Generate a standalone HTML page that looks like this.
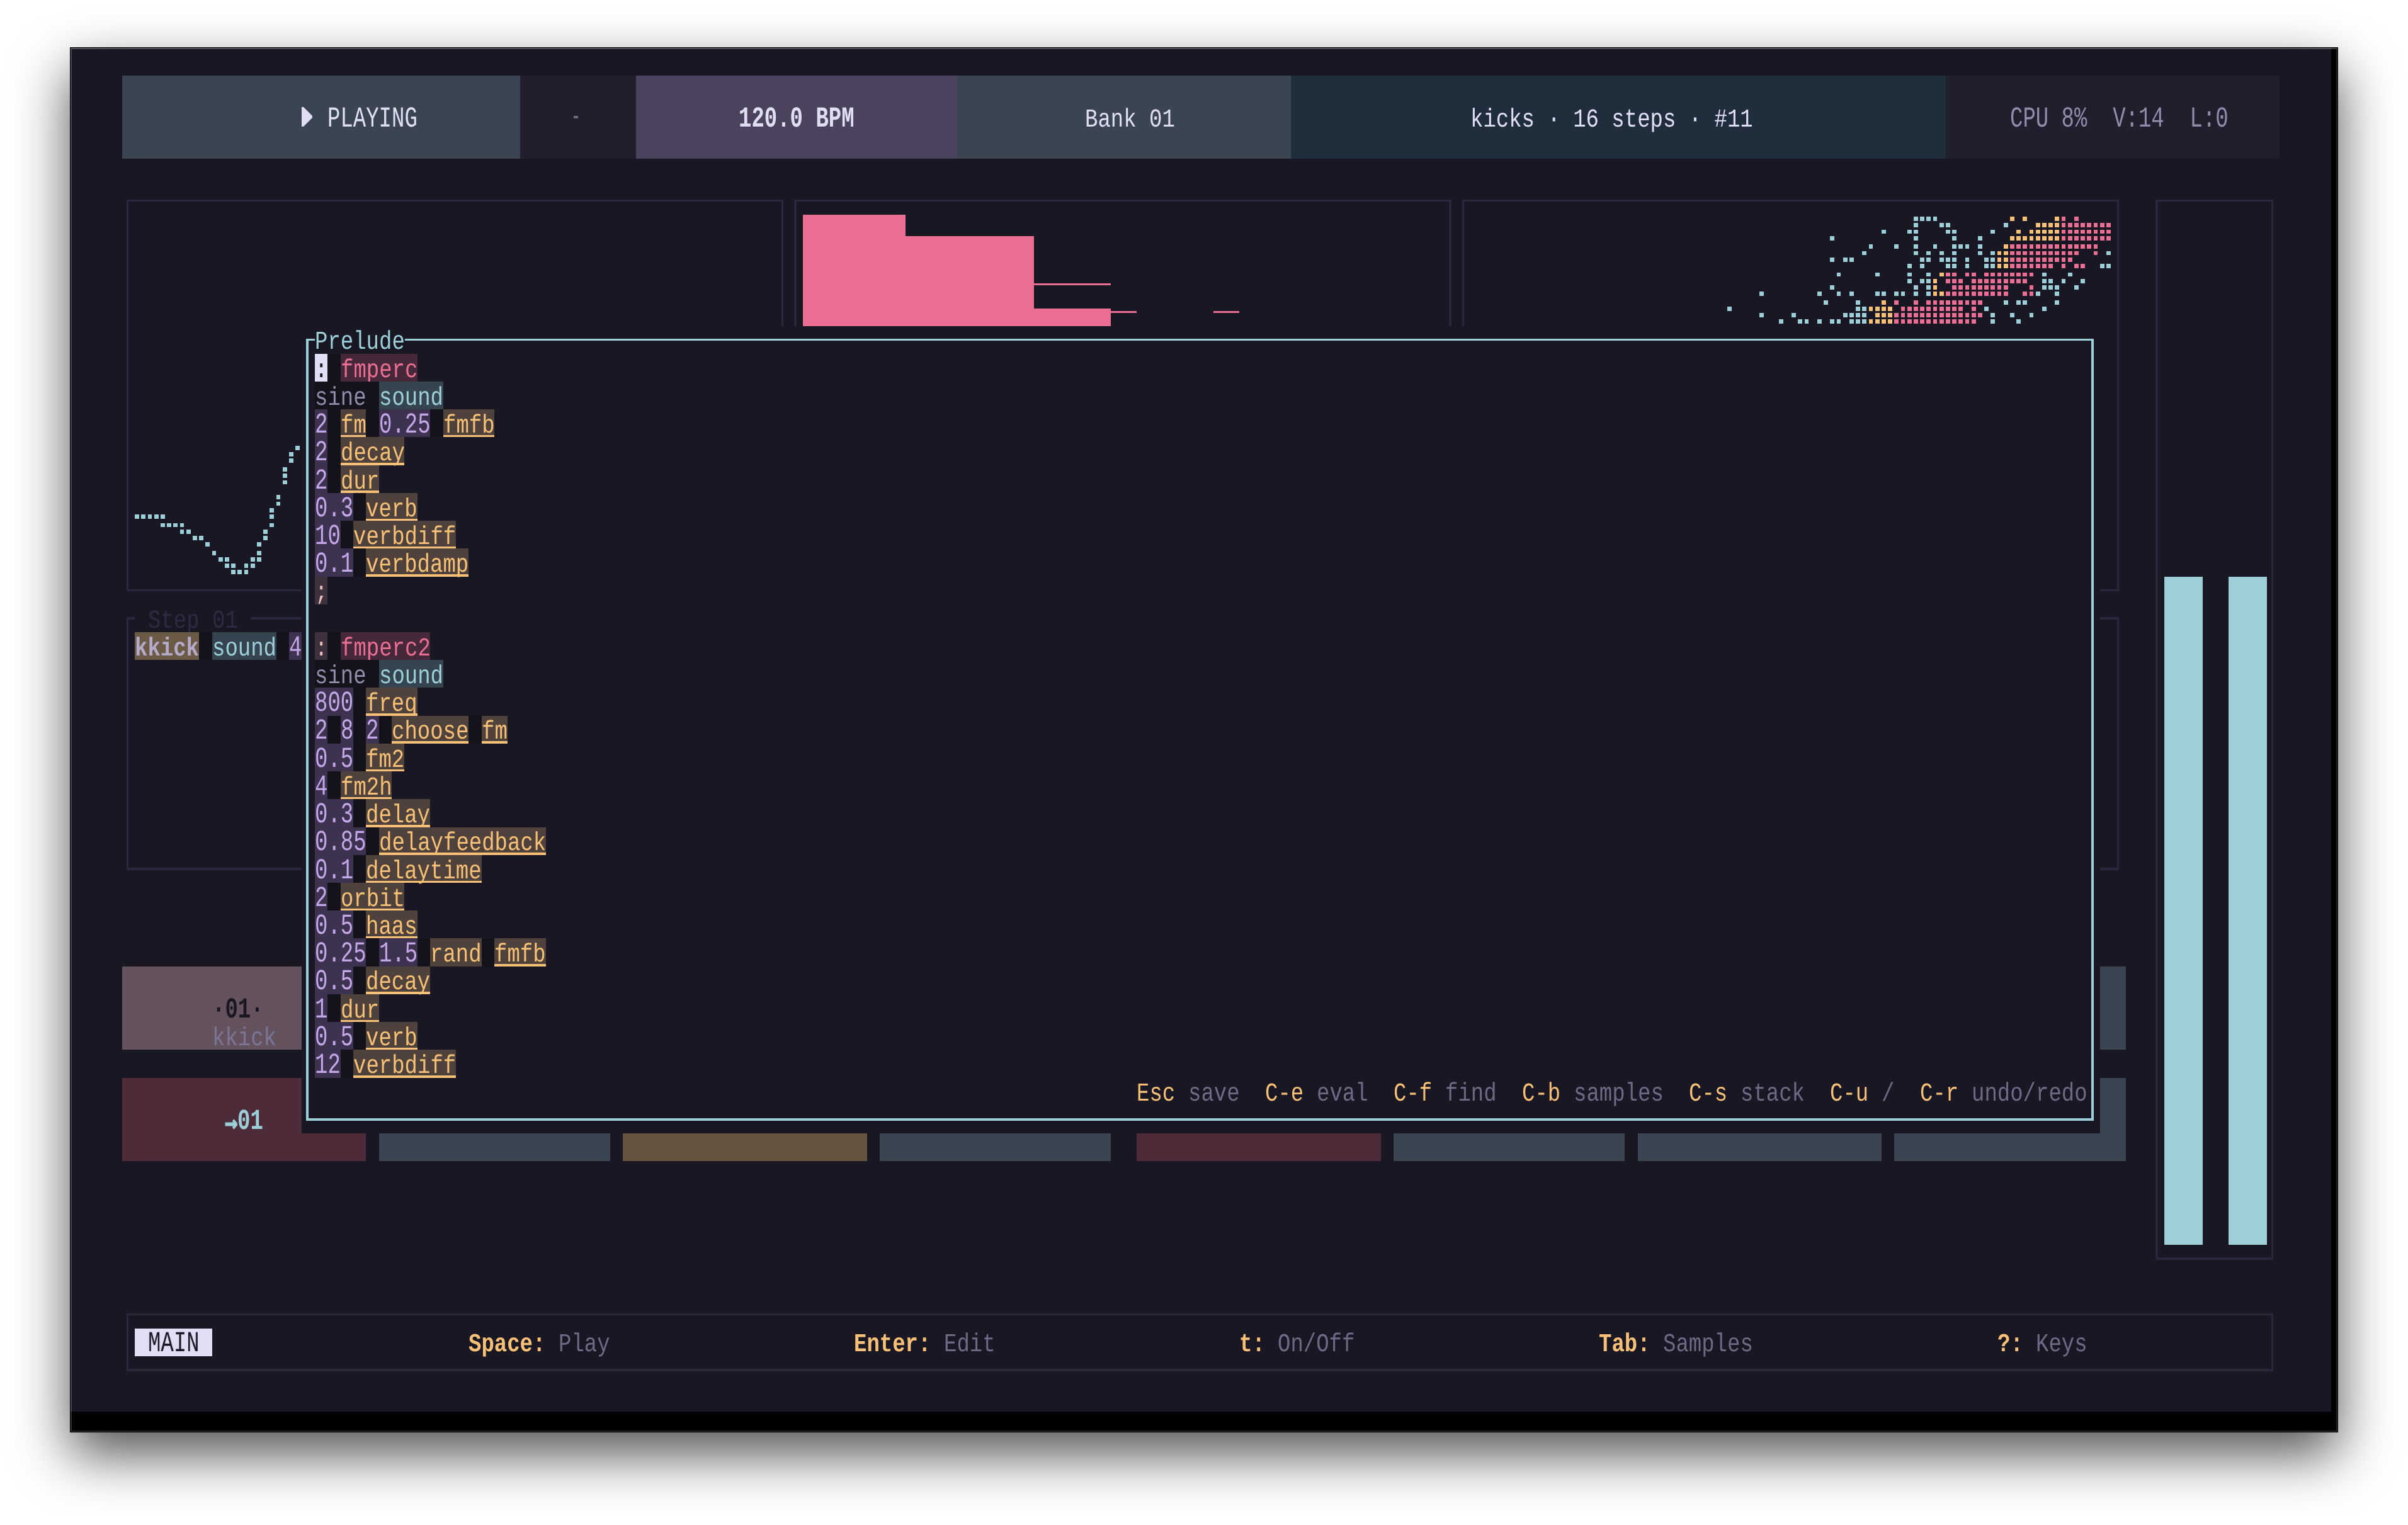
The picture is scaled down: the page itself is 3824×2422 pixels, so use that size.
<!DOCTYPE html>
<html lang="en"><head><meta charset="utf-8"><title>sequencer - Prelude</title>
<style>
html,body{margin:0;padding:0}
body{width:3824px;height:2422px;background:#fff;position:relative;overflow:hidden}
#win{position:absolute;left:111px;top:75px;width:3602px;height:2200px;background:#000;box-shadow:0 35.7px 81.4px rgba(0,0,0,.686)}
#scr{position:absolute;left:112px;top:76px;width:3590px;height:2166px;background:#191724}
#edge{position:absolute;left:112px;top:76px;width:3600px;height:2198px;box-sizing:border-box;border-style:solid;border-width:2px 2px 2px 2px;
 border-color:rgba(255,255,255,.25) rgba(255,255,255,.14) rgba(255,255,255,.15) rgba(255,255,255,.18)}
#g{position:absolute;left:0;top:0;width:3824px;height:2422px;will-change:transform;-webkit-font-smoothing:antialiased;text-rendering:geometricPrecision}
#g i{position:absolute;display:block}
#g svg{position:absolute;display:block}
.t{position:absolute;display:block;white-space:pre;font-family:"Liberation Mono",monospace;font-size:41px;line-height:44.22px;height:44.22px;
 transform:scaleX(0.82897);transform-origin:0 0;font-kerning:none;font-variant-ligatures:none}
.b{font-weight:bold}
.a{font-family:"DejaVu Sans Mono","Liberation Mono",monospace;font-size:42px;-webkit-text-stroke:1.2px currentColor;transform:scaleX(0.80661)}
.u{transform:scale(0.82897,1.12);transform-origin:0 33.02px}
</style></head>
<body>
<div id="win"></div>
<div id="scr"></div>
<div id="g">
<i style="left:194px;top:120px;width:632px;height:132px;background:#3a4551"></i>
<i style="left:826px;top:120px;width:184px;height:132px;background:#211f2d"></i>
<i style="left:1010px;top:120px;width:510px;height:132px;background:#4b425d"></i>
<i style="left:1520px;top:120px;width:530px;height:132px;background:#3a4551"></i>
<i style="left:2050px;top:120px;width:1040px;height:132px;background:#202d3b"></i>
<i style="left:3090px;top:120px;width:530px;height:132px;background:#211f2d"></i>
<svg style="left:479.33px;top:170.14px" width="18" height="32" viewBox="0 0 18 32"><polygon points="0,0 3,0 17,14 17,17 3,31 0,31" fill="#e0def4"/></svg>
<span class="t u" style="left:520.12px;top:168.64px;color:#e0def4">PLAYING</span>
<i style="left:911.04px;top:184.24px;width:6.8px;height:3.4px;background:#6e6a86"></i>
<span class="t b u" style="left:1172.79px;top:168.64px;color:#e0def4">120.0 BPM</span>
<span class="t" style="left:1723.48px;top:168.64px;color:#e0def4">Bank 01</span>
<span class="t" style="left:2335.36px;top:168.64px;color:#e0def4">kicks · 16 steps · #11</span>
<span class="t u" style="left:3192px;top:168.64px;color:#908caa">CPU 8%  V:14  L:0</span>
<i style="left:200.58px;top:316.9px;width:1043.6px;height:3.4px;background:#2a273c"></i>
<i style="left:200.58px;top:935.98px;width:1043.6px;height:3.4px;background:#2a273c"></i>
<i style="left:200.58px;top:316.9px;width:3.4px;height:622.48px;background:#2a273c"></i>
<i style="left:1240.78px;top:316.9px;width:3.4px;height:622.48px;background:#2a273c"></i>
<i style="left:1261.17px;top:316.9px;width:1043.6px;height:3.4px;background:#2a273c"></i>
<i style="left:1261.17px;top:935.98px;width:1043.6px;height:3.4px;background:#2a273c"></i>
<i style="left:1261.17px;top:316.9px;width:3.4px;height:622.48px;background:#2a273c"></i>
<i style="left:2301.37px;top:316.9px;width:3.4px;height:622.48px;background:#2a273c"></i>
<i style="left:2321.77px;top:316.9px;width:1043.6px;height:3.4px;background:#2a273c"></i>
<i style="left:2321.77px;top:935.98px;width:1043.6px;height:3.4px;background:#2a273c"></i>
<i style="left:2321.77px;top:316.9px;width:3.4px;height:622.48px;background:#2a273c"></i>
<i style="left:3361.96px;top:316.9px;width:3.4px;height:622.48px;background:#2a273c"></i>
<i style="left:3423.15px;top:316.9px;width:186.96px;height:3.4px;background:#2a273c"></i>
<i style="left:3423.15px;top:1997.26px;width:186.96px;height:3.4px;background:#2a273c"></i>
<i style="left:3423.15px;top:316.9px;width:3.4px;height:1683.76px;background:#2a273c"></i>
<i style="left:3606.71px;top:316.9px;width:3.4px;height:1683.76px;background:#2a273c"></i>
<i style="left:214.18px;top:816.91px;width:6.8px;height:6.8px;background:#9ccfd8"></i>
<i style="left:224.38px;top:816.91px;width:6.8px;height:6.8px;background:#9ccfd8"></i>
<i style="left:234.58px;top:816.91px;width:6.8px;height:6.8px;background:#9ccfd8"></i>
<i style="left:244.77px;top:816.91px;width:6.8px;height:6.8px;background:#9ccfd8"></i>
<i style="left:254.97px;top:816.91px;width:6.8px;height:6.8px;background:#9ccfd8"></i>
<i style="left:254.97px;top:830.54px;width:6.8px;height:6.8px;background:#9ccfd8"></i>
<i style="left:265.17px;top:830.54px;width:6.8px;height:6.8px;background:#9ccfd8"></i>
<i style="left:275.37px;top:830.54px;width:6.8px;height:6.8px;background:#9ccfd8"></i>
<i style="left:285.57px;top:830.54px;width:6.8px;height:6.8px;background:#9ccfd8"></i>
<i style="left:285.57px;top:840.74px;width:6.8px;height:6.8px;background:#9ccfd8"></i>
<i style="left:295.76px;top:840.74px;width:6.8px;height:6.8px;background:#9ccfd8"></i>
<i style="left:305.96px;top:850.94px;width:6.8px;height:6.8px;background:#9ccfd8"></i>
<i style="left:316.16px;top:850.94px;width:6.8px;height:6.8px;background:#9ccfd8"></i>
<i style="left:326.36px;top:861.13px;width:6.8px;height:6.8px;background:#9ccfd8"></i>
<i style="left:336.56px;top:874.76px;width:6.8px;height:6.8px;background:#9ccfd8"></i>
<i style="left:346.75px;top:884.96px;width:6.8px;height:6.8px;background:#9ccfd8"></i>
<i style="left:356.95px;top:884.96px;width:6.8px;height:6.8px;background:#9ccfd8"></i>
<i style="left:397.74px;top:884.96px;width:6.8px;height:6.8px;background:#9ccfd8"></i>
<i style="left:407.94px;top:884.96px;width:6.8px;height:6.8px;background:#9ccfd8"></i>
<i style="left:356.95px;top:895.16px;width:6.8px;height:6.8px;background:#9ccfd8"></i>
<i style="left:367.15px;top:895.16px;width:6.8px;height:6.8px;background:#9ccfd8"></i>
<i style="left:387.55px;top:895.16px;width:6.8px;height:6.8px;background:#9ccfd8"></i>
<i style="left:397.74px;top:895.16px;width:6.8px;height:6.8px;background:#9ccfd8"></i>
<i style="left:367.15px;top:905.35px;width:6.8px;height:6.8px;background:#9ccfd8"></i>
<i style="left:377.35px;top:905.35px;width:6.8px;height:6.8px;background:#9ccfd8"></i>
<i style="left:387.55px;top:905.35px;width:6.8px;height:6.8px;background:#9ccfd8"></i>
<i style="left:407.94px;top:874.76px;width:6.8px;height:6.8px;background:#9ccfd8"></i>
<i style="left:407.94px;top:861.13px;width:6.8px;height:6.8px;background:#9ccfd8"></i>
<i style="left:418.14px;top:850.94px;width:6.8px;height:6.8px;background:#9ccfd8"></i>
<i style="left:418.14px;top:840.74px;width:6.8px;height:6.8px;background:#9ccfd8"></i>
<i style="left:428.34px;top:830.54px;width:6.8px;height:6.8px;background:#9ccfd8"></i>
<i style="left:428.34px;top:816.91px;width:6.8px;height:6.8px;background:#9ccfd8"></i>
<i style="left:428.34px;top:806.72px;width:6.8px;height:6.8px;background:#9ccfd8"></i>
<i style="left:438.54px;top:796.52px;width:6.8px;height:6.8px;background:#9ccfd8"></i>
<i style="left:438.54px;top:786.32px;width:6.8px;height:6.8px;background:#9ccfd8"></i>
<i style="left:448.73px;top:762.5px;width:6.8px;height:6.8px;background:#9ccfd8"></i>
<i style="left:448.73px;top:752.3px;width:6.8px;height:6.8px;background:#9ccfd8"></i>
<i style="left:448.73px;top:742.1px;width:6.8px;height:6.8px;background:#9ccfd8"></i>
<i style="left:458.93px;top:728.47px;width:6.8px;height:6.8px;background:#9ccfd8"></i>
<i style="left:458.93px;top:718.28px;width:6.8px;height:6.8px;background:#9ccfd8"></i>
<i style="left:469.13px;top:708.08px;width:6.8px;height:6.8px;background:#9ccfd8"></i>
<i style="left:1275px;top:341px;width:163px;height:177px;background:#eb6f92"></i>
<i style="left:1438px;top:375px;width:204px;height:143px;background:#eb6f92"></i>
<i style="left:1642px;top:490px;width:122px;height:28px;background:#eb6f92"></i>
<i style="left:1641.9px;top:449.56px;width:122.38px;height:3.4px;background:#eb6f92"></i>
<i style="left:1764.28px;top:493.78px;width:40.79px;height:3.4px;background:#eb6f92"></i>
<i style="left:1927.44px;top:493.78px;width:40.79px;height:3.4px;background:#eb6f92"></i>
<i style="left:3039.03px;top:344.12px;width:6.8px;height:6.8px;background:#9ccfd8"></i>
<i style="left:3049.22px;top:344.12px;width:6.8px;height:6.8px;background:#9ccfd8"></i>
<i style="left:3059.42px;top:344.12px;width:6.8px;height:6.8px;background:#9ccfd8"></i>
<i style="left:3069.62px;top:344.12px;width:6.8px;height:6.8px;background:#9ccfd8"></i>
<i style="left:3192px;top:344.12px;width:6.8px;height:6.8px;background:#f6c177"></i>
<i style="left:3212.39px;top:344.12px;width:6.8px;height:6.8px;background:#f6c177"></i>
<i style="left:3263.38px;top:344.12px;width:6.8px;height:6.8px;background:#f6c177"></i>
<i style="left:3273.58px;top:344.12px;width:6.8px;height:6.8px;background:#eb6f92"></i>
<i style="left:3293.98px;top:344.12px;width:6.8px;height:6.8px;background:#eb6f92"></i>
<i style="left:3039.03px;top:354.32px;width:6.8px;height:6.8px;background:#9ccfd8"></i>
<i style="left:3079.82px;top:354.32px;width:6.8px;height:6.8px;background:#9ccfd8"></i>
<i style="left:3090.02px;top:354.32px;width:6.8px;height:6.8px;background:#9ccfd8"></i>
<i style="left:3181.8px;top:354.32px;width:6.8px;height:6.8px;background:#9ccfd8"></i>
<i style="left:3232.79px;top:354.32px;width:6.8px;height:6.8px;background:#f6c177"></i>
<i style="left:3242.99px;top:354.32px;width:6.8px;height:6.8px;background:#f6c177"></i>
<i style="left:3253.18px;top:354.32px;width:6.8px;height:6.8px;background:#f6c177"></i>
<i style="left:3263.38px;top:354.32px;width:6.8px;height:6.8px;background:#f6c177"></i>
<i style="left:3273.58px;top:354.32px;width:6.8px;height:6.8px;background:#eb6f92"></i>
<i style="left:3283.78px;top:354.32px;width:6.8px;height:6.8px;background:#eb6f92"></i>
<i style="left:3293.98px;top:354.32px;width:6.8px;height:6.8px;background:#eb6f92"></i>
<i style="left:3304.17px;top:354.32px;width:6.8px;height:6.8px;background:#eb6f92"></i>
<i style="left:3314.37px;top:354.32px;width:6.8px;height:6.8px;background:#eb6f92"></i>
<i style="left:3324.57px;top:354.32px;width:6.8px;height:6.8px;background:#eb6f92"></i>
<i style="left:3334.77px;top:354.32px;width:6.8px;height:6.8px;background:#eb6f92"></i>
<i style="left:3344.97px;top:354.32px;width:6.8px;height:6.8px;background:#eb6f92"></i>
<i style="left:2988.04px;top:364.52px;width:6.8px;height:6.8px;background:#9ccfd8"></i>
<i style="left:3028.83px;top:364.52px;width:6.8px;height:6.8px;background:#9ccfd8"></i>
<i style="left:3039.03px;top:364.52px;width:6.8px;height:6.8px;background:#9ccfd8"></i>
<i style="left:3090.02px;top:364.52px;width:6.8px;height:6.8px;background:#9ccfd8"></i>
<i style="left:3100.21px;top:364.52px;width:6.8px;height:6.8px;background:#9ccfd8"></i>
<i style="left:3161.4px;top:364.52px;width:6.8px;height:6.8px;background:#9ccfd8"></i>
<i style="left:3202.19px;top:364.52px;width:6.8px;height:6.8px;background:#f6c177"></i>
<i style="left:3222.59px;top:364.52px;width:6.8px;height:6.8px;background:#f6c177"></i>
<i style="left:3232.79px;top:364.52px;width:6.8px;height:6.8px;background:#f6c177"></i>
<i style="left:3242.99px;top:364.52px;width:6.8px;height:6.8px;background:#f6c177"></i>
<i style="left:3253.18px;top:364.52px;width:6.8px;height:6.8px;background:#f6c177"></i>
<i style="left:3263.38px;top:364.52px;width:6.8px;height:6.8px;background:#f6c177"></i>
<i style="left:3273.58px;top:364.52px;width:6.8px;height:6.8px;background:#eb6f92"></i>
<i style="left:3283.78px;top:364.52px;width:6.8px;height:6.8px;background:#eb6f92"></i>
<i style="left:3293.98px;top:364.52px;width:6.8px;height:6.8px;background:#eb6f92"></i>
<i style="left:3304.17px;top:364.52px;width:6.8px;height:6.8px;background:#eb6f92"></i>
<i style="left:3314.37px;top:364.52px;width:6.8px;height:6.8px;background:#eb6f92"></i>
<i style="left:3324.57px;top:364.52px;width:6.8px;height:6.8px;background:#eb6f92"></i>
<i style="left:3334.77px;top:364.52px;width:6.8px;height:6.8px;background:#eb6f92"></i>
<i style="left:3344.97px;top:364.52px;width:6.8px;height:6.8px;background:#eb6f92"></i>
<i style="left:2906.45px;top:374.71px;width:6.8px;height:6.8px;background:#9ccfd8"></i>
<i style="left:3039.03px;top:374.71px;width:6.8px;height:6.8px;background:#9ccfd8"></i>
<i style="left:3100.21px;top:374.71px;width:6.8px;height:6.8px;background:#9ccfd8"></i>
<i style="left:3141.01px;top:374.71px;width:6.8px;height:6.8px;background:#9ccfd8"></i>
<i style="left:3192px;top:374.71px;width:6.8px;height:6.8px;background:#f6c177"></i>
<i style="left:3202.19px;top:374.71px;width:6.8px;height:6.8px;background:#f6c177"></i>
<i style="left:3212.39px;top:374.71px;width:6.8px;height:6.8px;background:#f6c177"></i>
<i style="left:3222.59px;top:374.71px;width:6.8px;height:6.8px;background:#f6c177"></i>
<i style="left:3232.79px;top:374.71px;width:6.8px;height:6.8px;background:#f6c177"></i>
<i style="left:3242.99px;top:374.71px;width:6.8px;height:6.8px;background:#f6c177"></i>
<i style="left:3253.18px;top:374.71px;width:6.8px;height:6.8px;background:#f6c177"></i>
<i style="left:3263.38px;top:374.71px;width:6.8px;height:6.8px;background:#f6c177"></i>
<i style="left:3273.58px;top:374.71px;width:6.8px;height:6.8px;background:#eb6f92"></i>
<i style="left:3283.78px;top:374.71px;width:6.8px;height:6.8px;background:#eb6f92"></i>
<i style="left:3293.98px;top:374.71px;width:6.8px;height:6.8px;background:#eb6f92"></i>
<i style="left:3304.17px;top:374.71px;width:6.8px;height:6.8px;background:#eb6f92"></i>
<i style="left:3314.37px;top:374.71px;width:6.8px;height:6.8px;background:#eb6f92"></i>
<i style="left:3324.57px;top:374.71px;width:6.8px;height:6.8px;background:#eb6f92"></i>
<i style="left:3334.77px;top:374.71px;width:6.8px;height:6.8px;background:#eb6f92"></i>
<i style="left:3344.97px;top:374.71px;width:6.8px;height:6.8px;background:#eb6f92"></i>
<i style="left:2967.64px;top:388.34px;width:6.8px;height:6.8px;background:#9ccfd8"></i>
<i style="left:3008.43px;top:388.34px;width:6.8px;height:6.8px;background:#9ccfd8"></i>
<i style="left:3039.03px;top:388.34px;width:6.8px;height:6.8px;background:#9ccfd8"></i>
<i style="left:3069.62px;top:388.34px;width:6.8px;height:6.8px;background:#9ccfd8"></i>
<i style="left:3100.21px;top:388.34px;width:6.8px;height:6.8px;background:#9ccfd8"></i>
<i style="left:3110.41px;top:388.34px;width:6.8px;height:6.8px;background:#9ccfd8"></i>
<i style="left:3120.61px;top:388.34px;width:6.8px;height:6.8px;background:#9ccfd8"></i>
<i style="left:3141.01px;top:388.34px;width:6.8px;height:6.8px;background:#9ccfd8"></i>
<i style="left:3181.8px;top:388.34px;width:6.8px;height:6.8px;background:#f6c177"></i>
<i style="left:3192px;top:388.34px;width:6.8px;height:6.8px;background:#eb6f92"></i>
<i style="left:3202.19px;top:388.34px;width:6.8px;height:6.8px;background:#eb6f92"></i>
<i style="left:3212.39px;top:388.34px;width:6.8px;height:6.8px;background:#eb6f92"></i>
<i style="left:3222.59px;top:388.34px;width:6.8px;height:6.8px;background:#eb6f92"></i>
<i style="left:3232.79px;top:388.34px;width:6.8px;height:6.8px;background:#eb6f92"></i>
<i style="left:3242.99px;top:388.34px;width:6.8px;height:6.8px;background:#eb6f92"></i>
<i style="left:3253.18px;top:388.34px;width:6.8px;height:6.8px;background:#eb6f92"></i>
<i style="left:3263.38px;top:388.34px;width:6.8px;height:6.8px;background:#eb6f92"></i>
<i style="left:3273.58px;top:388.34px;width:6.8px;height:6.8px;background:#eb6f92"></i>
<i style="left:3283.78px;top:388.34px;width:6.8px;height:6.8px;background:#eb6f92"></i>
<i style="left:3293.98px;top:388.34px;width:6.8px;height:6.8px;background:#eb6f92"></i>
<i style="left:3304.17px;top:388.34px;width:6.8px;height:6.8px;background:#eb6f92"></i>
<i style="left:3314.37px;top:388.34px;width:6.8px;height:6.8px;background:#eb6f92"></i>
<i style="left:3324.57px;top:388.34px;width:6.8px;height:6.8px;background:#eb6f92"></i>
<i style="left:2957.44px;top:398.54px;width:6.8px;height:6.8px;background:#9ccfd8"></i>
<i style="left:3039.03px;top:398.54px;width:6.8px;height:6.8px;background:#9ccfd8"></i>
<i style="left:3059.42px;top:398.54px;width:6.8px;height:6.8px;background:#9ccfd8"></i>
<i style="left:3079.82px;top:398.54px;width:6.8px;height:6.8px;background:#9ccfd8"></i>
<i style="left:3100.21px;top:398.54px;width:6.8px;height:6.8px;background:#9ccfd8"></i>
<i style="left:3141.01px;top:398.54px;width:6.8px;height:6.8px;background:#9ccfd8"></i>
<i style="left:3161.4px;top:398.54px;width:6.8px;height:6.8px;background:#9ccfd8"></i>
<i style="left:3171.6px;top:398.54px;width:6.8px;height:6.8px;background:#f6c177"></i>
<i style="left:3181.8px;top:398.54px;width:6.8px;height:6.8px;background:#f6c177"></i>
<i style="left:3192px;top:398.54px;width:6.8px;height:6.8px;background:#eb6f92"></i>
<i style="left:3202.19px;top:398.54px;width:6.8px;height:6.8px;background:#eb6f92"></i>
<i style="left:3212.39px;top:398.54px;width:6.8px;height:6.8px;background:#eb6f92"></i>
<i style="left:3222.59px;top:398.54px;width:6.8px;height:6.8px;background:#eb6f92"></i>
<i style="left:3232.79px;top:398.54px;width:6.8px;height:6.8px;background:#eb6f92"></i>
<i style="left:3242.99px;top:398.54px;width:6.8px;height:6.8px;background:#eb6f92"></i>
<i style="left:3253.18px;top:398.54px;width:6.8px;height:6.8px;background:#eb6f92"></i>
<i style="left:3263.38px;top:398.54px;width:6.8px;height:6.8px;background:#eb6f92"></i>
<i style="left:3273.58px;top:398.54px;width:6.8px;height:6.8px;background:#eb6f92"></i>
<i style="left:3283.78px;top:398.54px;width:6.8px;height:6.8px;background:#eb6f92"></i>
<i style="left:3293.98px;top:398.54px;width:6.8px;height:6.8px;background:#eb6f92"></i>
<i style="left:3324.57px;top:398.54px;width:6.8px;height:6.8px;background:#eb6f92"></i>
<i style="left:3344.97px;top:398.54px;width:6.8px;height:6.8px;background:#9ccfd8"></i>
<i style="left:2906.45px;top:408.74px;width:6.8px;height:6.8px;background:#9ccfd8"></i>
<i style="left:2926.85px;top:408.74px;width:6.8px;height:6.8px;background:#9ccfd8"></i>
<i style="left:2937.05px;top:408.74px;width:6.8px;height:6.8px;background:#9ccfd8"></i>
<i style="left:3049.22px;top:408.74px;width:6.8px;height:6.8px;background:#9ccfd8"></i>
<i style="left:3059.42px;top:408.74px;width:6.8px;height:6.8px;background:#9ccfd8"></i>
<i style="left:3079.82px;top:408.74px;width:6.8px;height:6.8px;background:#9ccfd8"></i>
<i style="left:3090.02px;top:408.74px;width:6.8px;height:6.8px;background:#9ccfd8"></i>
<i style="left:3100.21px;top:408.74px;width:6.8px;height:6.8px;background:#9ccfd8"></i>
<i style="left:3120.61px;top:408.74px;width:6.8px;height:6.8px;background:#9ccfd8"></i>
<i style="left:3151.2px;top:408.74px;width:6.8px;height:6.8px;background:#9ccfd8"></i>
<i style="left:3161.4px;top:408.74px;width:6.8px;height:6.8px;background:#9ccfd8"></i>
<i style="left:3171.6px;top:408.74px;width:6.8px;height:6.8px;background:#f6c177"></i>
<i style="left:3181.8px;top:408.74px;width:6.8px;height:6.8px;background:#f6c177"></i>
<i style="left:3192px;top:408.74px;width:6.8px;height:6.8px;background:#eb6f92"></i>
<i style="left:3202.19px;top:408.74px;width:6.8px;height:6.8px;background:#eb6f92"></i>
<i style="left:3212.39px;top:408.74px;width:6.8px;height:6.8px;background:#eb6f92"></i>
<i style="left:3222.59px;top:408.74px;width:6.8px;height:6.8px;background:#eb6f92"></i>
<i style="left:3232.79px;top:408.74px;width:6.8px;height:6.8px;background:#eb6f92"></i>
<i style="left:3242.99px;top:408.74px;width:6.8px;height:6.8px;background:#eb6f92"></i>
<i style="left:3253.18px;top:408.74px;width:6.8px;height:6.8px;background:#eb6f92"></i>
<i style="left:3263.38px;top:408.74px;width:6.8px;height:6.8px;background:#eb6f92"></i>
<i style="left:3273.58px;top:408.74px;width:6.8px;height:6.8px;background:#eb6f92"></i>
<i style="left:3283.78px;top:408.74px;width:6.8px;height:6.8px;background:#eb6f92"></i>
<i style="left:3028.83px;top:418.93px;width:6.8px;height:6.8px;background:#9ccfd8"></i>
<i style="left:3049.22px;top:418.93px;width:6.8px;height:6.8px;background:#9ccfd8"></i>
<i style="left:3090.02px;top:418.93px;width:6.8px;height:6.8px;background:#9ccfd8"></i>
<i style="left:3100.21px;top:418.93px;width:6.8px;height:6.8px;background:#9ccfd8"></i>
<i style="left:3120.61px;top:418.93px;width:6.8px;height:6.8px;background:#9ccfd8"></i>
<i style="left:3151.2px;top:418.93px;width:6.8px;height:6.8px;background:#9ccfd8"></i>
<i style="left:3161.4px;top:418.93px;width:6.8px;height:6.8px;background:#9ccfd8"></i>
<i style="left:3171.6px;top:418.93px;width:6.8px;height:6.8px;background:#f6c177"></i>
<i style="left:3181.8px;top:418.93px;width:6.8px;height:6.8px;background:#f6c177"></i>
<i style="left:3192px;top:418.93px;width:6.8px;height:6.8px;background:#eb6f92"></i>
<i style="left:3202.19px;top:418.93px;width:6.8px;height:6.8px;background:#eb6f92"></i>
<i style="left:3212.39px;top:418.93px;width:6.8px;height:6.8px;background:#eb6f92"></i>
<i style="left:3222.59px;top:418.93px;width:6.8px;height:6.8px;background:#eb6f92"></i>
<i style="left:3232.79px;top:418.93px;width:6.8px;height:6.8px;background:#eb6f92"></i>
<i style="left:3242.99px;top:418.93px;width:6.8px;height:6.8px;background:#eb6f92"></i>
<i style="left:3253.18px;top:418.93px;width:6.8px;height:6.8px;background:#eb6f92"></i>
<i style="left:3273.58px;top:418.93px;width:6.8px;height:6.8px;background:#eb6f92"></i>
<i style="left:3293.98px;top:418.93px;width:6.8px;height:6.8px;background:#eb6f92"></i>
<i style="left:3304.17px;top:418.93px;width:6.8px;height:6.8px;background:#eb6f92"></i>
<i style="left:3334.77px;top:418.93px;width:6.8px;height:6.8px;background:#9ccfd8"></i>
<i style="left:3344.97px;top:418.93px;width:6.8px;height:6.8px;background:#9ccfd8"></i>
<i style="left:2916.65px;top:432.56px;width:6.8px;height:6.8px;background:#9ccfd8"></i>
<i style="left:2977.84px;top:432.56px;width:6.8px;height:6.8px;background:#9ccfd8"></i>
<i style="left:3028.83px;top:432.56px;width:6.8px;height:6.8px;background:#9ccfd8"></i>
<i style="left:3059.42px;top:432.56px;width:6.8px;height:6.8px;background:#9ccfd8"></i>
<i style="left:3079.82px;top:432.56px;width:6.8px;height:6.8px;background:#f6c177"></i>
<i style="left:3090.02px;top:432.56px;width:6.8px;height:6.8px;background:#eb6f92"></i>
<i style="left:3100.21px;top:432.56px;width:6.8px;height:6.8px;background:#eb6f92"></i>
<i style="left:3120.61px;top:432.56px;width:6.8px;height:6.8px;background:#eb6f92"></i>
<i style="left:3130.81px;top:432.56px;width:6.8px;height:6.8px;background:#eb6f92"></i>
<i style="left:3151.2px;top:432.56px;width:6.8px;height:6.8px;background:#eb6f92"></i>
<i style="left:3161.4px;top:432.56px;width:6.8px;height:6.8px;background:#eb6f92"></i>
<i style="left:3171.6px;top:432.56px;width:6.8px;height:6.8px;background:#eb6f92"></i>
<i style="left:3181.8px;top:432.56px;width:6.8px;height:6.8px;background:#eb6f92"></i>
<i style="left:3192px;top:432.56px;width:6.8px;height:6.8px;background:#eb6f92"></i>
<i style="left:3202.19px;top:432.56px;width:6.8px;height:6.8px;background:#eb6f92"></i>
<i style="left:3212.39px;top:432.56px;width:6.8px;height:6.8px;background:#eb6f92"></i>
<i style="left:3222.59px;top:432.56px;width:6.8px;height:6.8px;background:#eb6f92"></i>
<i style="left:3242.99px;top:432.56px;width:6.8px;height:6.8px;background:#9ccfd8"></i>
<i style="left:3283.78px;top:432.56px;width:6.8px;height:6.8px;background:#9ccfd8"></i>
<i style="left:3028.83px;top:442.76px;width:6.8px;height:6.8px;background:#9ccfd8"></i>
<i style="left:3049.22px;top:442.76px;width:6.8px;height:6.8px;background:#9ccfd8"></i>
<i style="left:3059.42px;top:442.76px;width:6.8px;height:6.8px;background:#9ccfd8"></i>
<i style="left:3069.62px;top:442.76px;width:6.8px;height:6.8px;background:#f6c177"></i>
<i style="left:3090.02px;top:442.76px;width:6.8px;height:6.8px;background:#eb6f92"></i>
<i style="left:3100.21px;top:442.76px;width:6.8px;height:6.8px;background:#eb6f92"></i>
<i style="left:3110.41px;top:442.76px;width:6.8px;height:6.8px;background:#eb6f92"></i>
<i style="left:3130.81px;top:442.76px;width:6.8px;height:6.8px;background:#eb6f92"></i>
<i style="left:3141.01px;top:442.76px;width:6.8px;height:6.8px;background:#eb6f92"></i>
<i style="left:3151.2px;top:442.76px;width:6.8px;height:6.8px;background:#eb6f92"></i>
<i style="left:3161.4px;top:442.76px;width:6.8px;height:6.8px;background:#eb6f92"></i>
<i style="left:3171.6px;top:442.76px;width:6.8px;height:6.8px;background:#eb6f92"></i>
<i style="left:3181.8px;top:442.76px;width:6.8px;height:6.8px;background:#eb6f92"></i>
<i style="left:3192px;top:442.76px;width:6.8px;height:6.8px;background:#eb6f92"></i>
<i style="left:3202.19px;top:442.76px;width:6.8px;height:6.8px;background:#eb6f92"></i>
<i style="left:3212.39px;top:442.76px;width:6.8px;height:6.8px;background:#eb6f92"></i>
<i style="left:3242.99px;top:442.76px;width:6.8px;height:6.8px;background:#9ccfd8"></i>
<i style="left:3253.18px;top:442.76px;width:6.8px;height:6.8px;background:#9ccfd8"></i>
<i style="left:3273.58px;top:442.76px;width:6.8px;height:6.8px;background:#9ccfd8"></i>
<i style="left:3304.17px;top:442.76px;width:6.8px;height:6.8px;background:#9ccfd8"></i>
<i style="left:2906.45px;top:452.96px;width:6.8px;height:6.8px;background:#9ccfd8"></i>
<i style="left:3039.03px;top:452.96px;width:6.8px;height:6.8px;background:#9ccfd8"></i>
<i style="left:3059.42px;top:452.96px;width:6.8px;height:6.8px;background:#9ccfd8"></i>
<i style="left:3069.62px;top:452.96px;width:6.8px;height:6.8px;background:#f6c177"></i>
<i style="left:3100.21px;top:452.96px;width:6.8px;height:6.8px;background:#eb6f92"></i>
<i style="left:3110.41px;top:452.96px;width:6.8px;height:6.8px;background:#eb6f92"></i>
<i style="left:3120.61px;top:452.96px;width:6.8px;height:6.8px;background:#eb6f92"></i>
<i style="left:3130.81px;top:452.96px;width:6.8px;height:6.8px;background:#eb6f92"></i>
<i style="left:3141.01px;top:452.96px;width:6.8px;height:6.8px;background:#eb6f92"></i>
<i style="left:3151.2px;top:452.96px;width:6.8px;height:6.8px;background:#eb6f92"></i>
<i style="left:3161.4px;top:452.96px;width:6.8px;height:6.8px;background:#eb6f92"></i>
<i style="left:3171.6px;top:452.96px;width:6.8px;height:6.8px;background:#eb6f92"></i>
<i style="left:3181.8px;top:452.96px;width:6.8px;height:6.8px;background:#eb6f92"></i>
<i style="left:3222.59px;top:452.96px;width:6.8px;height:6.8px;background:#eb6f92"></i>
<i style="left:3242.99px;top:452.96px;width:6.8px;height:6.8px;background:#9ccfd8"></i>
<i style="left:3253.18px;top:452.96px;width:6.8px;height:6.8px;background:#9ccfd8"></i>
<i style="left:3263.38px;top:452.96px;width:6.8px;height:6.8px;background:#9ccfd8"></i>
<i style="left:3293.98px;top:452.96px;width:6.8px;height:6.8px;background:#9ccfd8"></i>
<i style="left:2794.27px;top:463.15px;width:6.8px;height:6.8px;background:#9ccfd8"></i>
<i style="left:2886.06px;top:463.15px;width:6.8px;height:6.8px;background:#9ccfd8"></i>
<i style="left:2916.65px;top:463.15px;width:6.8px;height:6.8px;background:#9ccfd8"></i>
<i style="left:2937.05px;top:463.15px;width:6.8px;height:6.8px;background:#9ccfd8"></i>
<i style="left:2977.84px;top:463.15px;width:6.8px;height:6.8px;background:#9ccfd8"></i>
<i style="left:2988.04px;top:463.15px;width:6.8px;height:6.8px;background:#9ccfd8"></i>
<i style="left:3008.43px;top:463.15px;width:6.8px;height:6.8px;background:#9ccfd8"></i>
<i style="left:3018.63px;top:463.15px;width:6.8px;height:6.8px;background:#9ccfd8"></i>
<i style="left:3039.03px;top:463.15px;width:6.8px;height:6.8px;background:#9ccfd8"></i>
<i style="left:3059.42px;top:463.15px;width:6.8px;height:6.8px;background:#9ccfd8"></i>
<i style="left:3069.62px;top:463.15px;width:6.8px;height:6.8px;background:#f6c177"></i>
<i style="left:3079.82px;top:463.15px;width:6.8px;height:6.8px;background:#f6c177"></i>
<i style="left:3090.02px;top:463.15px;width:6.8px;height:6.8px;background:#eb6f92"></i>
<i style="left:3100.21px;top:463.15px;width:6.8px;height:6.8px;background:#eb6f92"></i>
<i style="left:3110.41px;top:463.15px;width:6.8px;height:6.8px;background:#eb6f92"></i>
<i style="left:3120.61px;top:463.15px;width:6.8px;height:6.8px;background:#eb6f92"></i>
<i style="left:3130.81px;top:463.15px;width:6.8px;height:6.8px;background:#eb6f92"></i>
<i style="left:3141.01px;top:463.15px;width:6.8px;height:6.8px;background:#eb6f92"></i>
<i style="left:3151.2px;top:463.15px;width:6.8px;height:6.8px;background:#eb6f92"></i>
<i style="left:3161.4px;top:463.15px;width:6.8px;height:6.8px;background:#eb6f92"></i>
<i style="left:3171.6px;top:463.15px;width:6.8px;height:6.8px;background:#eb6f92"></i>
<i style="left:3181.8px;top:463.15px;width:6.8px;height:6.8px;background:#eb6f92"></i>
<i style="left:3212.39px;top:463.15px;width:6.8px;height:6.8px;background:#eb6f92"></i>
<i style="left:3222.59px;top:463.15px;width:6.8px;height:6.8px;background:#eb6f92"></i>
<i style="left:3232.79px;top:463.15px;width:6.8px;height:6.8px;background:#9ccfd8"></i>
<i style="left:3263.38px;top:463.15px;width:6.8px;height:6.8px;background:#9ccfd8"></i>
<i style="left:2896.25px;top:476.78px;width:6.8px;height:6.8px;background:#9ccfd8"></i>
<i style="left:2947.24px;top:476.78px;width:6.8px;height:6.8px;background:#9ccfd8"></i>
<i style="left:2988.04px;top:476.78px;width:6.8px;height:6.8px;background:#f6c177"></i>
<i style="left:3008.43px;top:476.78px;width:6.8px;height:6.8px;background:#eb6f92"></i>
<i style="left:3039.03px;top:476.78px;width:6.8px;height:6.8px;background:#eb6f92"></i>
<i style="left:3059.42px;top:476.78px;width:6.8px;height:6.8px;background:#eb6f92"></i>
<i style="left:3069.62px;top:476.78px;width:6.8px;height:6.8px;background:#eb6f92"></i>
<i style="left:3079.82px;top:476.78px;width:6.8px;height:6.8px;background:#eb6f92"></i>
<i style="left:3090.02px;top:476.78px;width:6.8px;height:6.8px;background:#eb6f92"></i>
<i style="left:3100.21px;top:476.78px;width:6.8px;height:6.8px;background:#eb6f92"></i>
<i style="left:3110.41px;top:476.78px;width:6.8px;height:6.8px;background:#eb6f92"></i>
<i style="left:3120.61px;top:476.78px;width:6.8px;height:6.8px;background:#eb6f92"></i>
<i style="left:3130.81px;top:476.78px;width:6.8px;height:6.8px;background:#eb6f92"></i>
<i style="left:3141.01px;top:476.78px;width:6.8px;height:6.8px;background:#eb6f92"></i>
<i style="left:3181.8px;top:476.78px;width:6.8px;height:6.8px;background:#9ccfd8"></i>
<i style="left:3202.19px;top:476.78px;width:6.8px;height:6.8px;background:#9ccfd8"></i>
<i style="left:3212.39px;top:476.78px;width:6.8px;height:6.8px;background:#9ccfd8"></i>
<i style="left:3263.38px;top:476.78px;width:6.8px;height:6.8px;background:#9ccfd8"></i>
<i style="left:2743.28px;top:486.98px;width:6.8px;height:6.8px;background:#9ccfd8"></i>
<i style="left:2947.24px;top:486.98px;width:6.8px;height:6.8px;background:#9ccfd8"></i>
<i style="left:2957.44px;top:486.98px;width:6.8px;height:6.8px;background:#9ccfd8"></i>
<i style="left:2967.64px;top:486.98px;width:6.8px;height:6.8px;background:#f6c177"></i>
<i style="left:2977.84px;top:486.98px;width:6.8px;height:6.8px;background:#f6c177"></i>
<i style="left:2988.04px;top:486.98px;width:6.8px;height:6.8px;background:#f6c177"></i>
<i style="left:2998.23px;top:486.98px;width:6.8px;height:6.8px;background:#f6c177"></i>
<i style="left:3018.63px;top:486.98px;width:6.8px;height:6.8px;background:#eb6f92"></i>
<i style="left:3028.83px;top:486.98px;width:6.8px;height:6.8px;background:#eb6f92"></i>
<i style="left:3039.03px;top:486.98px;width:6.8px;height:6.8px;background:#eb6f92"></i>
<i style="left:3049.22px;top:486.98px;width:6.8px;height:6.8px;background:#eb6f92"></i>
<i style="left:3059.42px;top:486.98px;width:6.8px;height:6.8px;background:#eb6f92"></i>
<i style="left:3069.62px;top:486.98px;width:6.8px;height:6.8px;background:#eb6f92"></i>
<i style="left:3079.82px;top:486.98px;width:6.8px;height:6.8px;background:#eb6f92"></i>
<i style="left:3090.02px;top:486.98px;width:6.8px;height:6.8px;background:#eb6f92"></i>
<i style="left:3100.21px;top:486.98px;width:6.8px;height:6.8px;background:#eb6f92"></i>
<i style="left:3110.41px;top:486.98px;width:6.8px;height:6.8px;background:#eb6f92"></i>
<i style="left:3130.81px;top:486.98px;width:6.8px;height:6.8px;background:#eb6f92"></i>
<i style="left:3151.2px;top:486.98px;width:6.8px;height:6.8px;background:#9ccfd8"></i>
<i style="left:3242.99px;top:486.98px;width:6.8px;height:6.8px;background:#9ccfd8"></i>
<i style="left:2794.27px;top:497.18px;width:6.8px;height:6.8px;background:#9ccfd8"></i>
<i style="left:2845.26px;top:497.18px;width:6.8px;height:6.8px;background:#9ccfd8"></i>
<i style="left:2926.85px;top:497.18px;width:6.8px;height:6.8px;background:#9ccfd8"></i>
<i style="left:2937.05px;top:497.18px;width:6.8px;height:6.8px;background:#9ccfd8"></i>
<i style="left:2947.24px;top:497.18px;width:6.8px;height:6.8px;background:#9ccfd8"></i>
<i style="left:2957.44px;top:497.18px;width:6.8px;height:6.8px;background:#9ccfd8"></i>
<i style="left:2977.84px;top:497.18px;width:6.8px;height:6.8px;background:#f6c177"></i>
<i style="left:2988.04px;top:497.18px;width:6.8px;height:6.8px;background:#f6c177"></i>
<i style="left:2998.23px;top:497.18px;width:6.8px;height:6.8px;background:#f6c177"></i>
<i style="left:3008.43px;top:497.18px;width:6.8px;height:6.8px;background:#eb6f92"></i>
<i style="left:3018.63px;top:497.18px;width:6.8px;height:6.8px;background:#eb6f92"></i>
<i style="left:3028.83px;top:497.18px;width:6.8px;height:6.8px;background:#eb6f92"></i>
<i style="left:3039.03px;top:497.18px;width:6.8px;height:6.8px;background:#eb6f92"></i>
<i style="left:3049.22px;top:497.18px;width:6.8px;height:6.8px;background:#eb6f92"></i>
<i style="left:3059.42px;top:497.18px;width:6.8px;height:6.8px;background:#eb6f92"></i>
<i style="left:3069.62px;top:497.18px;width:6.8px;height:6.8px;background:#eb6f92"></i>
<i style="left:3079.82px;top:497.18px;width:6.8px;height:6.8px;background:#eb6f92"></i>
<i style="left:3090.02px;top:497.18px;width:6.8px;height:6.8px;background:#eb6f92"></i>
<i style="left:3100.21px;top:497.18px;width:6.8px;height:6.8px;background:#eb6f92"></i>
<i style="left:3110.41px;top:497.18px;width:6.8px;height:6.8px;background:#eb6f92"></i>
<i style="left:3120.61px;top:497.18px;width:6.8px;height:6.8px;background:#eb6f92"></i>
<i style="left:3130.81px;top:497.18px;width:6.8px;height:6.8px;background:#eb6f92"></i>
<i style="left:3141.01px;top:497.18px;width:6.8px;height:6.8px;background:#eb6f92"></i>
<i style="left:3161.4px;top:497.18px;width:6.8px;height:6.8px;background:#9ccfd8"></i>
<i style="left:3192px;top:497.18px;width:6.8px;height:6.8px;background:#9ccfd8"></i>
<i style="left:3222.59px;top:497.18px;width:6.8px;height:6.8px;background:#9ccfd8"></i>
<i style="left:2824.87px;top:507.37px;width:6.8px;height:6.8px;background:#9ccfd8"></i>
<i style="left:2855.46px;top:507.37px;width:6.8px;height:6.8px;background:#9ccfd8"></i>
<i style="left:2865.66px;top:507.37px;width:6.8px;height:6.8px;background:#9ccfd8"></i>
<i style="left:2886.06px;top:507.37px;width:6.8px;height:6.8px;background:#9ccfd8"></i>
<i style="left:2906.45px;top:507.37px;width:6.8px;height:6.8px;background:#9ccfd8"></i>
<i style="left:2916.65px;top:507.37px;width:6.8px;height:6.8px;background:#9ccfd8"></i>
<i style="left:2937.05px;top:507.37px;width:6.8px;height:6.8px;background:#9ccfd8"></i>
<i style="left:2947.24px;top:507.37px;width:6.8px;height:6.8px;background:#9ccfd8"></i>
<i style="left:2957.44px;top:507.37px;width:6.8px;height:6.8px;background:#9ccfd8"></i>
<i style="left:2967.64px;top:507.37px;width:6.8px;height:6.8px;background:#f6c177"></i>
<i style="left:2977.84px;top:507.37px;width:6.8px;height:6.8px;background:#f6c177"></i>
<i style="left:2988.04px;top:507.37px;width:6.8px;height:6.8px;background:#f6c177"></i>
<i style="left:2998.23px;top:507.37px;width:6.8px;height:6.8px;background:#f6c177"></i>
<i style="left:3008.43px;top:507.37px;width:6.8px;height:6.8px;background:#eb6f92"></i>
<i style="left:3018.63px;top:507.37px;width:6.8px;height:6.8px;background:#eb6f92"></i>
<i style="left:3028.83px;top:507.37px;width:6.8px;height:6.8px;background:#eb6f92"></i>
<i style="left:3039.03px;top:507.37px;width:6.8px;height:6.8px;background:#eb6f92"></i>
<i style="left:3049.22px;top:507.37px;width:6.8px;height:6.8px;background:#eb6f92"></i>
<i style="left:3059.42px;top:507.37px;width:6.8px;height:6.8px;background:#eb6f92"></i>
<i style="left:3069.62px;top:507.37px;width:6.8px;height:6.8px;background:#eb6f92"></i>
<i style="left:3079.82px;top:507.37px;width:6.8px;height:6.8px;background:#eb6f92"></i>
<i style="left:3090.02px;top:507.37px;width:6.8px;height:6.8px;background:#eb6f92"></i>
<i style="left:3100.21px;top:507.37px;width:6.8px;height:6.8px;background:#eb6f92"></i>
<i style="left:3110.41px;top:507.37px;width:6.8px;height:6.8px;background:#eb6f92"></i>
<i style="left:3120.61px;top:507.37px;width:6.8px;height:6.8px;background:#eb6f92"></i>
<i style="left:3130.81px;top:507.37px;width:6.8px;height:6.8px;background:#eb6f92"></i>
<i style="left:3161.4px;top:507.37px;width:6.8px;height:6.8px;background:#9ccfd8"></i>
<i style="left:3202.19px;top:507.37px;width:6.8px;height:6.8px;background:#9ccfd8"></i>
<i style="left:3437px;top:916px;width:61px;height:1061px;background:#9ccfd8"></i>
<i style="left:3539px;top:916px;width:61px;height:1061px;background:#9ccfd8"></i>
<i style="left:200.58px;top:980.2px;width:13.6px;height:3.4px;background:#2a273c"></i>
<i style="left:397.74px;top:980.2px;width:2967.62px;height:3.4px;background:#2a273c"></i>
<i style="left:200.58px;top:1378.18px;width:3164.78px;height:3.4px;background:#2a273c"></i>
<i style="left:200.58px;top:980.2px;width:3.4px;height:401.38px;background:#2a273c"></i>
<i style="left:3361.96px;top:980.2px;width:3.4px;height:401.38px;background:#2a273c"></i>
<span class="t" style="left:234.58px;top:964.6px;color:#2d2a41">Step 01</span>
<i style="left:214px;top:1004px;width:102px;height:44px;background:#6b5a46"></i>
<span class="t b" style="left:214.18px;top:1008.82px;color:#b3abc9">kkick</span>
<i style="left:316px;top:1004px;width:21px;height:44px;background:#14121b"></i>
<i style="left:337px;top:1004px;width:102px;height:44px;background:#364450"></i>
<span class="t" style="left:336.56px;top:1008.82px;color:#9ccfd8">sound</span>
<i style="left:439px;top:1004px;width:20px;height:44px;background:#14121b"></i>
<i style="left:459px;top:1004px;width:20px;height:44px;background:#3d3351"></i>
<span class="t u" style="left:458.93px;top:1008.82px;color:#c4a7e7">4</span>
<i style="left:194px;top:1535px;width:387px;height:132px;background:#64525e"></i>
<i style="left:194px;top:1712px;width:387px;height:132px;background:#4e2b38"></i>
<i style="left:602px;top:1535px;width:367px;height:132px;background:#3a4551"></i>
<i style="left:602px;top:1712px;width:367px;height:132px;background:#3a4551"></i>
<i style="left:989px;top:1535px;width:388px;height:132px;background:#3a4551"></i>
<i style="left:989px;top:1712px;width:388px;height:132px;background:#65533f"></i>
<i style="left:1397px;top:1535px;width:367px;height:132px;background:#3a4551"></i>
<i style="left:1397px;top:1712px;width:367px;height:132px;background:#3a4551"></i>
<i style="left:1805px;top:1535px;width:388px;height:132px;background:#3a4551"></i>
<i style="left:1805px;top:1712px;width:388px;height:132px;background:#4e2b38"></i>
<i style="left:2213px;top:1535px;width:367px;height:132px;background:#3a4551"></i>
<i style="left:2213px;top:1712px;width:367px;height:132px;background:#3a4551"></i>
<i style="left:2601px;top:1535px;width:387px;height:132px;background:#3a4551"></i>
<i style="left:2601px;top:1712px;width:387px;height:132px;background:#3a4551"></i>
<i style="left:3008px;top:1535px;width:368px;height:132px;background:#3a4551"></i>
<i style="left:3008px;top:1712px;width:368px;height:132px;background:#3a4551"></i>
<span class="t b u" style="left:336.56px;top:1583.68px;color:#191724">·01·</span>
<span class="t" style="left:336.56px;top:1627.9px;color:#7c7696">kkick</span>
<span class="t b a" style="left:356.95px;top:1760.56px;color:#9ccfd8">→</span>
<span class="t b u" style="left:377.35px;top:1760.56px;color:#9ccfd8">01</span>
<i style="left:479px;top:518px;width:2856px;height:1282px;background:#191724"></i>
<i style="left:486.13px;top:538px;width:13.6px;height:3.4px;background:#9ccfd8"></i>
<i style="left:642.5px;top:538px;width:2682.07px;height:3.4px;background:#9ccfd8"></i>
<i style="left:486.13px;top:1776.16px;width:2838.44px;height:3.4px;background:#9ccfd8"></i>
<i style="left:486.13px;top:538px;width:3.4px;height:1241.56px;background:#9ccfd8"></i>
<i style="left:3321.17px;top:538px;width:3.4px;height:1241.56px;background:#9ccfd8"></i>
<span class="t" style="left:499.72px;top:522.4px;color:#9ccfd8">Prelude</span>
<i style="left:500px;top:562px;width:20px;height:44px;background:#e0def4"></i>
<span class="t" style="left:499.72px;top:566.62px;color:#191724">:</span>
<i style="left:520px;top:562px;width:21px;height:44px;background:#14121b"></i>
<i style="left:541px;top:562px;width:122px;height:44px;background:#46283b"></i>
<span class="t" style="left:540.52px;top:566.62px;color:#eb6f92">fmperc</span>
<i style="left:500px;top:606px;width:81px;height:44px;background:#14121b"></i>
<span class="t" style="left:499.72px;top:610.84px;color:#908caa">sine</span>
<i style="left:581px;top:606px;width:21px;height:44px;background:#14121b"></i>
<i style="left:602px;top:606px;width:102px;height:44px;background:#364450"></i>
<span class="t" style="left:601.7px;top:610.84px;color:#9ccfd8">sound</span>
<i style="left:500px;top:650px;width:20px;height:44px;background:#3d3351"></i>
<span class="t u" style="left:499.72px;top:655.06px;color:#c4a7e7">2</span>
<i style="left:520px;top:650px;width:21px;height:44px;background:#14121b"></i>
<i style="left:541px;top:650px;width:40px;height:44px;background:#4f413c"></i>
<span class="t" style="left:540.52px;top:655.06px;color:#f6c177">fm</span>
<i style="left:540.52px;top:691.05px;width:40.79px;height:3.4px;background:#f6c177"></i>
<i style="left:581px;top:650px;width:21px;height:44px;background:#14121b"></i>
<i style="left:602px;top:650px;width:81px;height:44px;background:#3d3351"></i>
<span class="t u" style="left:601.7px;top:655.06px;color:#c4a7e7">0.25</span>
<i style="left:683px;top:650px;width:21px;height:44px;background:#14121b"></i>
<i style="left:704px;top:650px;width:81px;height:44px;background:#4f413c"></i>
<span class="t" style="left:703.68px;top:655.06px;color:#f6c177">fmfb</span>
<i style="left:703.68px;top:691.05px;width:81.58px;height:3.4px;background:#f6c177"></i>
<i style="left:500px;top:694px;width:20px;height:45px;background:#3d3351"></i>
<span class="t u" style="left:499.72px;top:699.28px;color:#c4a7e7">2</span>
<i style="left:520px;top:694px;width:21px;height:45px;background:#14121b"></i>
<i style="left:541px;top:694px;width:101px;height:45px;background:#4f413c"></i>
<span class="t" style="left:540.52px;top:699.28px;color:#f6c177">decay</span>
<i style="left:540.52px;top:735.27px;width:101.98px;height:3.4px;background:#f6c177"></i>
<i style="left:500px;top:739px;width:20px;height:44px;background:#3d3351"></i>
<span class="t u" style="left:499.72px;top:743.5px;color:#c4a7e7">2</span>
<i style="left:520px;top:739px;width:21px;height:44px;background:#14121b"></i>
<i style="left:541px;top:739px;width:61px;height:44px;background:#4f413c"></i>
<span class="t" style="left:540.52px;top:743.5px;color:#f6c177">dur</span>
<i style="left:540.52px;top:779.49px;width:61.19px;height:3.4px;background:#f6c177"></i>
<i style="left:500px;top:783px;width:61px;height:44px;background:#3d3351"></i>
<span class="t u" style="left:499.72px;top:787.72px;color:#c4a7e7">0.3</span>
<i style="left:561px;top:783px;width:20px;height:44px;background:#14121b"></i>
<i style="left:581px;top:783px;width:82px;height:44px;background:#4f413c"></i>
<span class="t" style="left:581.31px;top:787.72px;color:#f6c177">verb</span>
<i style="left:581.31px;top:823.71px;width:81.58px;height:3.4px;background:#f6c177"></i>
<i style="left:500px;top:827px;width:41px;height:44px;background:#3d3351"></i>
<span class="t u" style="left:499.72px;top:831.94px;color:#c4a7e7">10</span>
<i style="left:541px;top:827px;width:20px;height:44px;background:#14121b"></i>
<i style="left:561px;top:827px;width:163px;height:44px;background:#4f413c"></i>
<span class="t" style="left:560.91px;top:831.94px;color:#f6c177">verbdiff</span>
<i style="left:560.91px;top:867.93px;width:163.17px;height:3.4px;background:#f6c177"></i>
<i style="left:500px;top:871px;width:61px;height:45px;background:#3d3351"></i>
<span class="t u" style="left:499.72px;top:876.16px;color:#c4a7e7">0.1</span>
<i style="left:561px;top:871px;width:20px;height:45px;background:#14121b"></i>
<i style="left:581px;top:871px;width:163px;height:45px;background:#4f413c"></i>
<span class="t" style="left:581.31px;top:876.16px;color:#f6c177">verbdamp</span>
<i style="left:581.31px;top:912.15px;width:163.17px;height:3.4px;background:#f6c177"></i>
<i style="left:500px;top:916px;width:20px;height:44px;background:#3c313d"></i>
<span class="t" style="left:499.72px;top:920.38px;color:#ebbcba">;</span>
<i style="left:500px;top:1004px;width:20px;height:44px;background:#3c313d"></i>
<span class="t" style="left:499.72px;top:1008.82px;color:#ebbcba">:</span>
<i style="left:520px;top:1004px;width:21px;height:44px;background:#14121b"></i>
<i style="left:541px;top:1004px;width:142px;height:44px;background:#46283b"></i>
<span class="t" style="left:540.52px;top:1008.82px;color:#eb6f92">fmperc2</span>
<i style="left:500px;top:1048px;width:81px;height:44px;background:#14121b"></i>
<span class="t" style="left:499.72px;top:1053.04px;color:#908caa">sine</span>
<i style="left:581px;top:1048px;width:21px;height:44px;background:#14121b"></i>
<i style="left:602px;top:1048px;width:102px;height:44px;background:#364450"></i>
<span class="t" style="left:601.7px;top:1053.04px;color:#9ccfd8">sound</span>
<i style="left:500px;top:1092px;width:61px;height:45px;background:#3d3351"></i>
<span class="t u" style="left:499.72px;top:1097.26px;color:#c4a7e7">800</span>
<i style="left:561px;top:1092px;width:20px;height:45px;background:#14121b"></i>
<i style="left:581px;top:1092px;width:82px;height:45px;background:#4f413c"></i>
<span class="t" style="left:581.31px;top:1097.26px;color:#f6c177">freq</span>
<i style="left:581.31px;top:1133.25px;width:81.58px;height:3.4px;background:#f6c177"></i>
<i style="left:500px;top:1137px;width:20px;height:44px;background:#3d3351"></i>
<span class="t u" style="left:499.72px;top:1141.48px;color:#c4a7e7">2</span>
<i style="left:520px;top:1137px;width:21px;height:44px;background:#14121b"></i>
<i style="left:541px;top:1137px;width:20px;height:44px;background:#3d3351"></i>
<span class="t u" style="left:540.52px;top:1141.48px;color:#c4a7e7">8</span>
<i style="left:561px;top:1137px;width:20px;height:44px;background:#14121b"></i>
<i style="left:581px;top:1137px;width:21px;height:44px;background:#3d3351"></i>
<span class="t u" style="left:581.31px;top:1141.48px;color:#c4a7e7">2</span>
<i style="left:602px;top:1137px;width:20px;height:44px;background:#14121b"></i>
<i style="left:622px;top:1137px;width:122px;height:44px;background:#4f413c"></i>
<span class="t" style="left:622.1px;top:1141.48px;color:#f6c177">choose</span>
<i style="left:622.1px;top:1177.47px;width:122.38px;height:3.4px;background:#f6c177"></i>
<i style="left:744px;top:1137px;width:21px;height:44px;background:#14121b"></i>
<i style="left:765px;top:1137px;width:41px;height:44px;background:#4f413c"></i>
<span class="t" style="left:764.87px;top:1141.48px;color:#f6c177">fm</span>
<i style="left:764.87px;top:1177.47px;width:40.79px;height:3.4px;background:#f6c177"></i>
<i style="left:500px;top:1181px;width:61px;height:44px;background:#3d3351"></i>
<span class="t u" style="left:499.72px;top:1185.7px;color:#c4a7e7">0.5</span>
<i style="left:561px;top:1181px;width:20px;height:44px;background:#14121b"></i>
<i style="left:581px;top:1181px;width:61px;height:44px;background:#4f413c"></i>
<span class="t" style="left:581.31px;top:1185.7px;color:#f6c177">fm2</span>
<i style="left:581.31px;top:1221.69px;width:61.19px;height:3.4px;background:#f6c177"></i>
<i style="left:500px;top:1225px;width:20px;height:44px;background:#3d3351"></i>
<span class="t u" style="left:499.72px;top:1229.92px;color:#c4a7e7">4</span>
<i style="left:520px;top:1225px;width:21px;height:44px;background:#14121b"></i>
<i style="left:541px;top:1225px;width:81px;height:44px;background:#4f413c"></i>
<span class="t" style="left:540.52px;top:1229.92px;color:#f6c177">fm2h</span>
<i style="left:540.52px;top:1265.91px;width:81.58px;height:3.4px;background:#f6c177"></i>
<i style="left:500px;top:1269px;width:61px;height:45px;background:#3d3351"></i>
<span class="t u" style="left:499.72px;top:1274.14px;color:#c4a7e7">0.3</span>
<i style="left:561px;top:1269px;width:20px;height:45px;background:#14121b"></i>
<i style="left:581px;top:1269px;width:102px;height:45px;background:#4f413c"></i>
<span class="t" style="left:581.31px;top:1274.14px;color:#f6c177">delay</span>
<i style="left:581.31px;top:1310.13px;width:101.98px;height:3.4px;background:#f6c177"></i>
<i style="left:500px;top:1314px;width:81px;height:44px;background:#3d3351"></i>
<span class="t u" style="left:499.72px;top:1318.36px;color:#c4a7e7">0.85</span>
<i style="left:581px;top:1314px;width:21px;height:44px;background:#14121b"></i>
<i style="left:602px;top:1314px;width:265px;height:44px;background:#4f413c"></i>
<span class="t" style="left:601.7px;top:1318.36px;color:#f6c177">delayfeedback</span>
<i style="left:601.7px;top:1354.35px;width:265.15px;height:3.4px;background:#f6c177"></i>
<i style="left:500px;top:1358px;width:61px;height:44px;background:#3d3351"></i>
<span class="t u" style="left:499.72px;top:1362.58px;color:#c4a7e7">0.1</span>
<i style="left:561px;top:1358px;width:20px;height:44px;background:#14121b"></i>
<i style="left:581px;top:1358px;width:184px;height:44px;background:#4f413c"></i>
<span class="t" style="left:581.31px;top:1362.58px;color:#f6c177">delaytime</span>
<i style="left:581.31px;top:1398.57px;width:183.56px;height:3.4px;background:#f6c177"></i>
<i style="left:500px;top:1402px;width:20px;height:44px;background:#3d3351"></i>
<span class="t u" style="left:499.72px;top:1406.8px;color:#c4a7e7">2</span>
<i style="left:520px;top:1402px;width:21px;height:44px;background:#14121b"></i>
<i style="left:541px;top:1402px;width:101px;height:44px;background:#4f413c"></i>
<span class="t" style="left:540.52px;top:1406.8px;color:#f6c177">orbit</span>
<i style="left:540.52px;top:1442.79px;width:101.98px;height:3.4px;background:#f6c177"></i>
<i style="left:500px;top:1446px;width:61px;height:44px;background:#3d3351"></i>
<span class="t u" style="left:499.72px;top:1451.02px;color:#c4a7e7">0.5</span>
<i style="left:561px;top:1446px;width:20px;height:44px;background:#14121b"></i>
<i style="left:581px;top:1446px;width:82px;height:44px;background:#4f413c"></i>
<span class="t" style="left:581.31px;top:1451.02px;color:#f6c177">haas</span>
<i style="left:581.31px;top:1487.01px;width:81.58px;height:3.4px;background:#f6c177"></i>
<i style="left:500px;top:1490px;width:81px;height:45px;background:#3d3351"></i>
<span class="t u" style="left:499.72px;top:1495.24px;color:#c4a7e7">0.25</span>
<i style="left:581px;top:1490px;width:21px;height:45px;background:#14121b"></i>
<i style="left:602px;top:1490px;width:61px;height:45px;background:#3d3351"></i>
<span class="t u" style="left:601.7px;top:1495.24px;color:#c4a7e7">1.5</span>
<i style="left:663px;top:1490px;width:20px;height:45px;background:#14121b"></i>
<i style="left:683px;top:1490px;width:82px;height:45px;background:#4f413c"></i>
<span class="t" style="left:683.29px;top:1495.24px;color:#f6c177">rand</span>
<i style="left:765px;top:1490px;width:20px;height:45px;background:#14121b"></i>
<i style="left:785px;top:1490px;width:82px;height:45px;background:#4f413c"></i>
<span class="t" style="left:785.27px;top:1495.24px;color:#f6c177">fmfb</span>
<i style="left:785.27px;top:1531.23px;width:81.58px;height:3.4px;background:#f6c177"></i>
<i style="left:500px;top:1535px;width:61px;height:44px;background:#3d3351"></i>
<span class="t u" style="left:499.72px;top:1539.46px;color:#c4a7e7">0.5</span>
<i style="left:561px;top:1535px;width:20px;height:44px;background:#14121b"></i>
<i style="left:581px;top:1535px;width:102px;height:44px;background:#4f413c"></i>
<span class="t" style="left:581.31px;top:1539.46px;color:#f6c177">decay</span>
<i style="left:581.31px;top:1575.45px;width:101.98px;height:3.4px;background:#f6c177"></i>
<i style="left:500px;top:1579px;width:20px;height:44px;background:#3d3351"></i>
<span class="t u" style="left:499.72px;top:1583.68px;color:#c4a7e7">1</span>
<i style="left:520px;top:1579px;width:21px;height:44px;background:#14121b"></i>
<i style="left:541px;top:1579px;width:61px;height:44px;background:#4f413c"></i>
<span class="t" style="left:540.52px;top:1583.68px;color:#f6c177">dur</span>
<i style="left:540.52px;top:1619.67px;width:61.19px;height:3.4px;background:#f6c177"></i>
<i style="left:500px;top:1623px;width:61px;height:44px;background:#3d3351"></i>
<span class="t u" style="left:499.72px;top:1627.9px;color:#c4a7e7">0.5</span>
<i style="left:561px;top:1623px;width:20px;height:44px;background:#14121b"></i>
<i style="left:581px;top:1623px;width:82px;height:44px;background:#4f413c"></i>
<span class="t" style="left:581.31px;top:1627.9px;color:#f6c177">verb</span>
<i style="left:581.31px;top:1663.89px;width:81.58px;height:3.4px;background:#f6c177"></i>
<i style="left:500px;top:1667px;width:41px;height:45px;background:#3d3351"></i>
<span class="t u" style="left:499.72px;top:1672.12px;color:#c4a7e7">12</span>
<i style="left:541px;top:1667px;width:20px;height:45px;background:#14121b"></i>
<i style="left:561px;top:1667px;width:163px;height:45px;background:#4f413c"></i>
<span class="t" style="left:560.91px;top:1672.12px;color:#f6c177">verbdiff</span>
<i style="left:560.91px;top:1708.11px;width:163.17px;height:3.4px;background:#f6c177"></i>
<span class="t" style="left:1805.07px;top:1716.34px;color:#f6c177">Esc</span>
<span class="t" style="left:1886.65px;top:1716.34px;color:#6e6a86">save</span>
<span class="t" style="left:2009.03px;top:1716.34px;color:#f6c177">C-e</span>
<span class="t" style="left:2090.61px;top:1716.34px;color:#6e6a86">eval</span>
<span class="t" style="left:2212.99px;top:1716.34px;color:#f6c177">C-f</span>
<span class="t" style="left:2294.57px;top:1716.34px;color:#6e6a86">find</span>
<span class="t" style="left:2416.95px;top:1716.34px;color:#f6c177">C-b</span>
<span class="t" style="left:2498.53px;top:1716.34px;color:#6e6a86">samples</span>
<span class="t" style="left:2682.1px;top:1716.34px;color:#f6c177">C-s</span>
<span class="t" style="left:2763.68px;top:1716.34px;color:#6e6a86">stack</span>
<span class="t" style="left:2906.45px;top:1716.34px;color:#f6c177">C-u</span>
<span class="t" style="left:2988.04px;top:1716.34px;color:#6e6a86">/</span>
<span class="t" style="left:3049.22px;top:1716.34px;color:#f6c177">C-r</span>
<span class="t" style="left:3130.81px;top:1716.34px;color:#6e6a86">undo/redo</span>
<i style="left:200.58px;top:2085.7px;width:3409.53px;height:3.4px;background:#2a273c"></i>
<i style="left:200.58px;top:2174.14px;width:3409.53px;height:3.4px;background:#2a273c"></i>
<i style="left:200.58px;top:2085.7px;width:3.4px;height:91.84px;background:#2a273c"></i>
<i style="left:3606.71px;top:2085.7px;width:3.4px;height:91.84px;background:#2a273c"></i>
<i style="left:214px;top:2110px;width:123px;height:44px;background:#e0def4"></i>
<span class="t u" style="left:234.58px;top:2114.32px;color:#191724">MAIN</span>
<span class="t b" style="left:744.48px;top:2114.32px;color:#f6c177">Space:</span>
<span class="t" style="left:887.25px;top:2114.32px;color:#6e6a86">Play</span>
<span class="t b" style="left:1356.36px;top:2114.32px;color:#f6c177">Enter:</span>
<span class="t" style="left:1499.13px;top:2114.32px;color:#6e6a86">Edit</span>
<span class="t b" style="left:1968.24px;top:2114.32px;color:#f6c177">t:</span>
<span class="t" style="left:2029.42px;top:2114.32px;color:#6e6a86">On/Off</span>
<span class="t b" style="left:2539.32px;top:2114.32px;color:#f6c177">Tab:</span>
<span class="t" style="left:2641.3px;top:2114.32px;color:#6e6a86">Samples</span>
<span class="t b" style="left:3171.6px;top:2114.32px;color:#f6c177">?:</span>
<span class="t" style="left:3232.79px;top:2114.32px;color:#6e6a86">Keys</span>
</div>
<div id="edge"></div>
</body></html>
